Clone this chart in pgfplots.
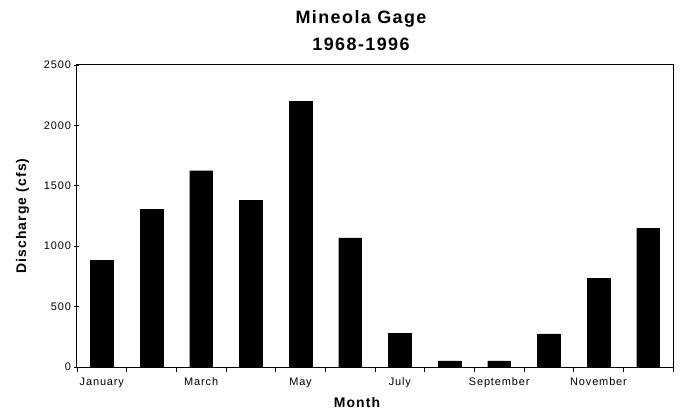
\documentclass[border=0pt]{standalone}
\usepackage{fontspec}
\setmainfont{Liberation Sans}[LetterSpace=8]
\usepackage{pgfplots}
\pgfplotsset{compat=1.18}
\begin{document}
\begin{tikzpicture}
\begin{axis}[
  scale only axis,
  width=596bp, height=302bp,
  xmin=-0.5, xmax=11.5,
  ymin=0, ymax=2500,
  ytick={0,500,1000,1500,2000,2500},
  xtick={-0.5,0.5,...,11.5},
  xticklabels={},
  extra x ticks={0,2,4,6,8,10},
  extra x tick labels={January,March,May,July,September,November},
  extra x tick style={major tick length=0pt},
  tick pos=left,
  tick align=center,
  major tick length=5bp,
  axis line style={line width=1bp},
  tick style={black, line width=0.6bp},
  /pgf/number format/assume math mode=true,
  yticklabel style={font=\fontsize{11}{13}\selectfont, /pgf/number format/1000 sep={}},
  xticklabel style={font=\fontsize{11}{13}\selectfont, yshift=-7bp},
  ylabel={Discharge (cfs)},
  ylabel style={font=\fontsize{14}{16}\selectfont\bfseries, yshift=8bp},
  xlabel={Month},
  xlabel style={font=\fontsize{14}{16}\selectfont\bfseries, xshift=-18bp, yshift=2bp},
  title={Mineola Gage\\1968-1996},
  title style={font=\fontsize{18}{27}\selectfont\bfseries, align=center, xshift=-14bp, yshift=5bp},
  ybar,
  bar width=0.46,
]
\addplot[fill=black, draw=black] coordinates {
(0,880) (1,1305) (2,1625) (3,1380) (4,2200) (5,1068)
(6,280) (7,50) (8,50) (9,275) (10,735) (11,1150)};
\end{axis}
\path (current axis.south west) ++(-77bp,-53bp) rectangle ++(687bp,420bp);
\end{tikzpicture}
\end{document}
